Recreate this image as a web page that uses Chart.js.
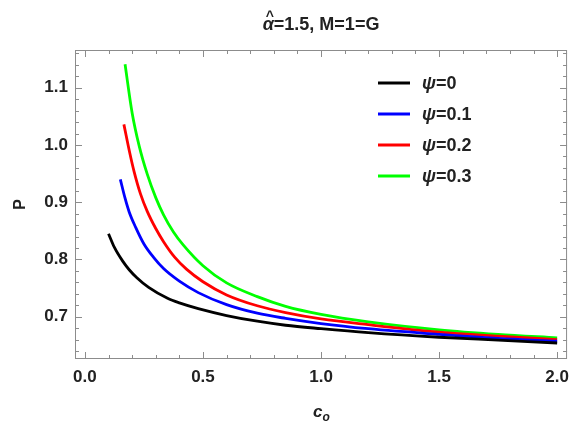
<!DOCTYPE html>
<html>
<head>
<meta charset="utf-8">
<script src="https://cdn.jsdelivr.net/npm/chart.js@4.4.1/dist/chart.umd.min.js"></script>
<style>
html,body{margin:0;padding:0;background:#fff;}
#wrap{width:577px;height:424px;position:relative;}
</style>
</head>
<body>
<div id="wrap"><canvas id="c" width="577" height="424"></canvas></div>
<script>
// ---- data ----
const seriesLabels = ["0", "0.1", "0.2", "0.3"];
const seriesColors = ["#000000", "#0000ff", "#ff0000", "#00ff00"];

const c_psi0 = [0.1, 0.125, 0.16, 0.1875, 0.22, 0.27, 0.35, 0.4, 0.48, 0.6, 0.73, 0.85, 1.0, 1.2, 1.5, 1.75, 2.0];
const P_psi0 = [0.845, 0.821, 0.797, 0.782, 0.768, 0.751, 0.732, 0.724, 0.714, 0.702, 0.692, 0.685, 0.679, 0.672, 0.664, 0.659, 0.654];

const c_psi1 = [0.15, 0.17, 0.1875, 0.215, 0.25, 0.29, 0.333, 0.4, 0.48, 0.6, 0.73, 0.85, 1.0, 1.2, 1.5, 1.75, 2.0];
const P_psi1 = [0.940, 0.907, 0.883, 0.856, 0.827, 0.804, 0.784, 0.762, 0.742, 0.721, 0.706, 0.697, 0.688, 0.679, 0.669, 0.662, 0.657];

const c_psi2 = [0.165, 0.19, 0.208, 0.235, 0.264, 0.3, 0.333, 0.38, 0.43, 0.5, 0.6, 0.73, 0.85, 1.0, 1.2, 1.5, 1.75, 2.0];
const P_psi2 = [1.036, 0.986, 0.954, 0.915, 0.884, 0.854, 0.831, 0.804, 0.783, 0.761, 0.738, 0.719, 0.707, 0.696, 0.686, 0.673, 0.666, 0.660];

const c_psi3 = [0.17, 0.2, 0.23, 0.264, 0.3, 0.333, 0.375, 0.417, 0.5, 0.6, 0.73, 0.85, 1.0, 1.2, 1.5, 1.75, 2.0];
const P_psi3 = [1.141, 1.056, 0.998, 0.949, 0.908, 0.878, 0.848, 0.825, 0.789, 0.759, 0.735, 0.718, 0.704, 0.691, 0.677, 0.669, 0.663];

const xTicks = [0.0, 0.5, 1.0, 1.5, 2.0];
const yTicks = [0.7, 0.8, 0.9, 1.0, 1.1];
const xMinorStep = 0.1;
const yMinorStep = 0.02;
const xRange = [-0.042, 2.042];
const yRange = [0.626, 1.166];

const allC = [c_psi0, c_psi1, c_psi2, c_psi3];
const allP = [P_psi0, P_psi1, P_psi2, P_psi3];

const FONT = "'Liberation Sans', Arial, sans-serif";
const FRAME = "#8c8c8c";

const datasets = seriesLabels.map((lab, i) => ({
  label: "\u03C8=" + lab,
  data: allC[i].map((c, j) => ({x: c, y: allP[i][j]})),
  borderColor: seriesColors[i],
  backgroundColor: seriesColors[i],
  borderWidth: 2.8,
  pointRadius: 0,
  fill: false,
  cubicInterpolationMode: 'monotone'
}));

const decor = {
  id: 'decor',
  afterDraw(chart) {
    const ctx = chart.ctx;
    const a = chart.chartArea;
    const xs = chart.scales.x, ys = chart.scales.y;
    ctx.save();
    // frame
    ctx.strokeStyle = FRAME;
    ctx.lineWidth = 1;
    ctx.strokeRect(a.left + 0.5, a.top + 0.5, a.right - a.left - 1, a.bottom - a.top - 1);
    // ticks
    const tick = (x1, y1, x2, y2) => { ctx.beginPath(); ctx.moveTo(x1, y1); ctx.lineTo(x2, y2); ctx.stroke(); };
    const nx = Math.round((xRange[1] - xRange[0]) / xMinorStep) + 2;
    for (let k = -1; k < nx; k++) {
      const v = Math.round(k * xMinorStep * 1000) / 1000;
      if (v < xRange[0] || v > xRange[1]) continue;
      const major = xTicks.some(t => Math.abs(t - v) < 1e-6);
      const len = major ? 7 : 4;
      const px = Math.round(xs.getPixelForValue(v)) + 0.5;
      tick(px, a.bottom, px, a.bottom - len);
      tick(px, a.top, px, a.top + len);
    }
    const ny = Math.round((yRange[1]) / yMinorStep) + 2;
    for (let k = 0; k < ny; k++) {
      const v = Math.round(k * yMinorStep * 1000) / 1000;
      if (v < yRange[0] || v > yRange[1]) continue;
      const major = yTicks.some(t => Math.abs(t - v) < 1e-6);
      const len = major ? 7 : 4;
      const py = Math.round(ys.getPixelForValue(v)) + 0.5;
      tick(a.left, py, a.left + len, py);
      tick(a.right, py, a.right - len, py);
    }
    // title
    ctx.fillStyle = "#222";
    ctx.textBaseline = 'alphabetic';
    const cx = (a.left + a.right) / 2;
    const t1 = "\u03B1", t2 = "=1.5, M=1=G";
    ctx.font = "italic bold 18px " + FONT;
    const w1 = ctx.measureText(t1).width;
    ctx.font = "bold 18px " + FONT;
    const w2 = ctx.measureText(t2).width;
    let x0 = cx - (w1 + w2) / 2;
    ctx.font = "italic bold 18px " + FONT;
    ctx.fillText(t1, x0, 30);
    ctx.font = "bold 14px " + FONT;
    ctx.fillText("^", x0 + 3, 21);
    ctx.font = "bold 18px " + FONT;
    ctx.fillText(t2, x0 + w1, 30);
    // y label
    ctx.save();
    ctx.translate(25, (a.top + a.bottom) / 2);
    ctx.rotate(-Math.PI / 2);
    ctx.textAlign = 'center';
    ctx.font = "bold 16px " + FONT;
    ctx.fillStyle = "#222";
    ctx.fillText("P", 0, 0);
    ctx.restore();
    // x label c_o
    ctx.font = "italic bold 17px " + FONT;
    const cw = ctx.measureText("c").width;
    ctx.fillText("c", cx - 8, 417);
    ctx.font = "italic bold 12px " + FONT;
    ctx.fillText("o", cx - 8 + cw, 421);
    // legend
    const rows = [83, 114, 145, 176];
    chart.data.datasets.forEach((d, i) => {
      const y = rows[i];
      ctx.strokeStyle = d.borderColor;
      ctx.lineWidth = 3;
      tick(378, y, 410, y);
      ctx.fillStyle = "#222";
      ctx.textBaseline = 'middle';
      ctx.font = "italic bold 18px " + FONT;
      ctx.fillText("\u03C8", 422, y + 1);
      const pw = ctx.measureText("\u03C8").width;
      ctx.font = "bold 18px " + FONT;
      ctx.fillText("=" + seriesLabels[i], 422 + pw, y + 1);
    });
    ctx.restore();
  }
};

new Chart(document.getElementById('c'), {
  type: 'line',
  data: { datasets },
  options: {
    responsive: false,
    animation: false,
    layout: { padding: { left: 0, right: 2, top: 50, bottom: 0 } },
    plugins: { legend: { display: false }, title: { display: false }, tooltip: { enabled: false } },
    scales: {
      x: {
        type: 'linear', min: xRange[0], max: xRange[1],
        afterFit(s) { s.height = 65; },
        afterBuildTicks(s) { s.ticks = xTicks.map(v => ({ value: v })); },
        grid: { display: false, drawTicks: false },
        border: { display: false },
        ticks: { color: "#222", padding: 8, maxRotation: 0, autoSkip: false,
          font: { family: FONT, size: 17, weight: 'bold' },
          callback: v => v.toFixed(1) }
      },
      y: {
        type: 'linear', min: yRange[0], max: yRange[1],
        afterFit(s) { s.width = 75; },
        afterBuildTicks(s) { s.ticks = yTicks.map(v => ({ value: v })); },
        grid: { display: false, drawTicks: false },
        border: { display: false },
        ticks: { color: "#222", padding: 7, autoSkip: false,
          font: { family: FONT, size: 17, weight: 'bold' },
          callback: v => v.toFixed(1) }
      }
    }
  },
  plugins: [decor]
});
</script>
</body>
</html>
